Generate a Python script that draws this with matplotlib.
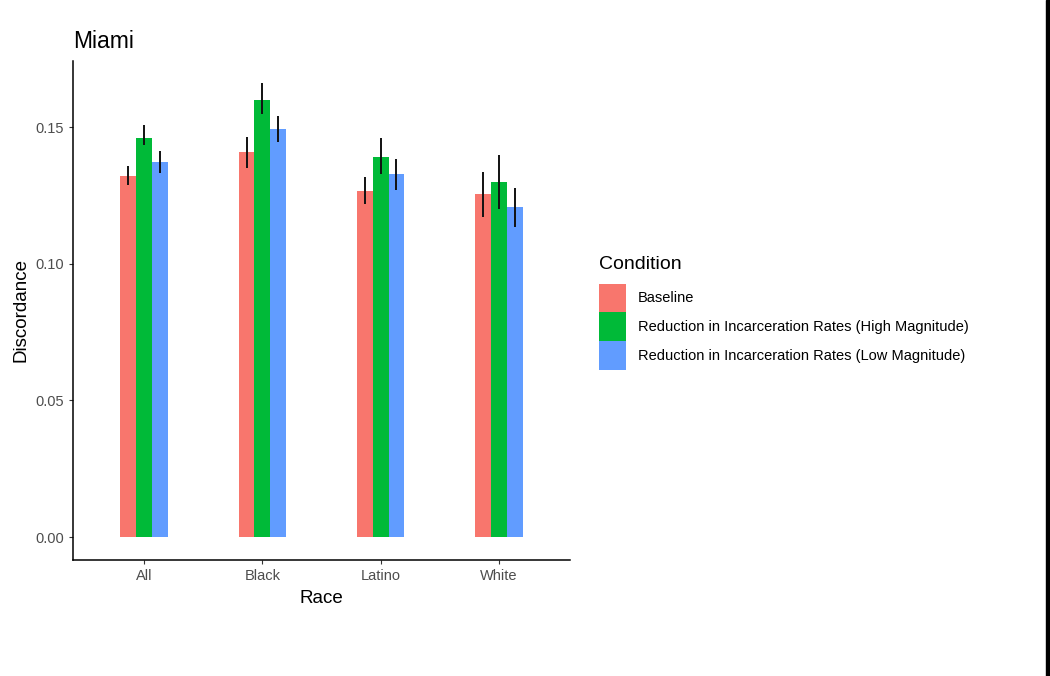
import matplotlib
matplotlib.use("Agg")
import matplotlib.pyplot as plt
from matplotlib.patches import Patch, Rectangle
import numpy as np

plt.rcParams['font.family'] = ['Liberation Sans', 'DejaVu Sans']

# data
races = ["All", "Black", "Latino", "White"]
conditions = ["Baseline",
              "Reduction in Incarceration Rates (High Magnitude)",
              "Reduction in Incarceration Rates (Low Magnitude)"]
colors = ["#F8766D", "#00BA38", "#619CFF"]

baseline = [0.1321, 0.1410, 0.1266, 0.1255]
high_mag = [0.1461, 0.1600, 0.1389, 0.1298]
low_mag = [0.1373, 0.1492, 0.1328, 0.1206]
values = [baseline, high_mag, low_mag]

baseline_lo = [0.1288, 0.1352, 0.1218, 0.1170]
baseline_hi = [0.1357, 0.1462, 0.1318, 0.1337]
high_lo = [0.1434, 0.1547, 0.1328, 0.1199]
high_hi = [0.1507, 0.1660, 0.1459, 0.1398]
low_lo = [0.1333, 0.1446, 0.1271, 0.1135]
low_hi = [0.1413, 0.1540, 0.1384, 0.1278]
lows = [baseline_lo, high_lo, low_lo]
highs = [baseline_hi, high_hi, low_hi]

fig = plt.figure(figsize=(10.5, 6.76), dpi=100)
ax = fig.add_axes([0.0695, 0.1716, 0.4734, 0.7382])

x = np.arange(1, len(races) + 1)
w = 0.4 / 3
for i in range(3):
    xs = x + (i - 1) * w
    ax.bar(xs, values[i], width=w, color=colors[i], linewidth=0)
    ax.vlines(xs, lows[i], highs[i], color="#111111", linewidth=1.4)

ax.set_xlim(0.4, 4.6)
ax.set_ylim(-0.0084, 0.1742)
ax.set_xticks(x)
ax.set_xticklabels(races)
ax.set_yticks([0.0, 0.05, 0.10, 0.15])
ax.set_yticklabels(["0.00", "0.05", "0.10", "0.15"])
ax.tick_params(colors="#333333", labelcolor="#4D4D4D", labelsize=10.5, length=3, width=0.8)
for s in ["top", "right"]:
    ax.spines[s].set_visible(False)
for s in ["left", "bottom"]:
    ax.spines[s].set_linewidth(1.1)

ax.set_xlabel("Race", fontsize=13.5, labelpad=5)
ax.set_ylabel("Discordance", fontsize=13.5, labelpad=4)
ax.set_title("Miami", fontsize=16.5, loc="left", pad=9)

handles = [Patch(facecolor=c, edgecolor="none") for c in colors]
leg = fig.legend(handles, conditions, loc="upper left", bbox_to_anchor=(0.570, 0.622),
                 frameon=False, title="Condition", title_fontsize=14, fontsize=10.5,
                 handlelength=1.9, handleheight=2.65, labelspacing=0, handletextpad=0.8,
                 borderpad=0, borderaxespad=0)
leg._legend_box.align = "left"
leg._legend_box.sep = 8

# black strip at right edge
fig.add_artist(Rectangle((0.9962, 0), 0.0038, 1, transform=fig.transFigure,
                         color="black", zorder=10))

fig.savefig("out.png", dpi=100)
